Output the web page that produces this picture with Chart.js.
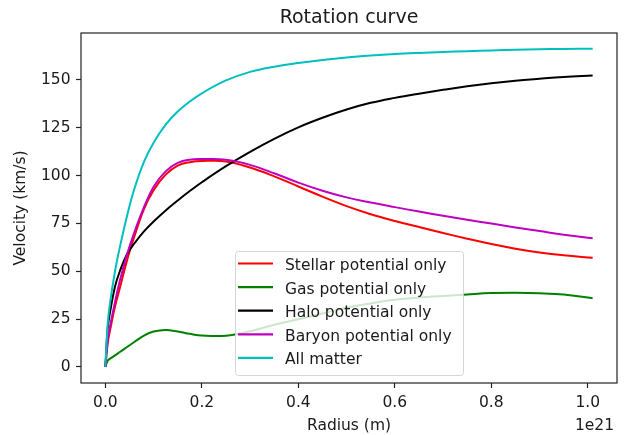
<!DOCTYPE html>
<html>
<head>
<meta charset="utf-8">
<script src="https://cdn.jsdelivr.net/npm/chart.js@4"></script>
<style>
  body { margin: 0; background: #fff; }
  canvas { display: block; }
</style>
</head>
<body>
<canvas id="chart" width="627" height="435"></canvas>
<script>
// radius in units of 1e21 m
const radius = [0, 0.005, 0.01, 0.02, 0.03, 0.045, 0.06, 0.08, 0.1, 0.125, 0.15, 0.175, 0.2, 0.25, 0.3, 0.35, 0.4, 0.45, 0.5, 0.55, 0.6, 0.65, 0.7, 0.75, 0.8, 0.85, 0.9, 0.95, 1.01];

// velocities in km/s
const stellar = [0, 12.7, 19.5, 31.5, 41.2, 55.8, 68, 82.5, 92.4, 100.5, 105.2, 107, 107.6, 107.4, 104.2, 99.6, 94.3, 89, 84, 79.8, 76.3, 73.1, 70, 67, 64.2, 61.8, 59.8, 58.3, 57];
const gas = [0, 3.4, 4.3, 6, 7.8, 10.4, 13, 16.4, 18.5, 19.3, 18.5, 17.3, 16.4, 16.3, 18.6, 22, 24.9, 27.9, 30.9, 33.2, 35.1, 36.3, 37.1, 37.9, 38.6, 38.8, 38.5, 37.8, 35.9];
const halo = [0, 20.5, 29, 42, 50, 59, 64.5, 70.8, 76, 81.8, 87, 91.9, 96.5, 104.9, 112.4, 119.2, 125.2, 130.2, 134.5, 138, 140.6, 142.8, 144.8, 146.7, 148.3, 149.6, 150.6, 151.5, 152.3];
const baryon = [0, 14.5, 21.7, 34, 45, 58.8, 70.3, 83.5, 94.2, 102.2, 106.6, 108.3, 108.6, 108.3, 105.6, 101.2, 96.3, 92.1, 88.6, 85.9, 83.5, 81.2, 79, 76.9, 74.9, 72.9, 71, 69.1, 67.2];
const allMatter = [0, 23, 34, 50, 62.5, 79, 93, 107.2, 117.2, 126.6, 133.5, 138.7, 143, 149.7, 154.2, 156.9, 158.8, 160.4, 161.7, 162.7, 163.5, 164.1, 164.6, 165, 165.4, 165.7, 166, 166.2, 166.3];

const seriesLabels = ['Stellar potential only', 'Gas potential only', 'Halo potential only', 'Baryon potential only', 'All matter'];
const seriesColors = ['#ff0000', '#008000', '#000000', '#bf00bf', '#00bfbf'];
const xTicks = [0, 0.2, 0.4, 0.6, 0.8, 1.0];
const yTicks = [0, 25, 50, 75, 100, 125, 150];

const FONT = 'DejaVu Sans';
const TEXT = '#1a1a1a';

const toPoints = (values) => radius.map((r, i) => ({ x: r, y: values[i] }));

const frameAndLegend = {
  id: 'frameAndLegend',
  afterDatasetsDraw(chart) {
    const { ctx, chartArea: a } = chart;
    ctx.save();
    // axes box
    ctx.strokeStyle = '#222';
    ctx.lineWidth = 1.2;
    ctx.strokeRect(a.left, a.top, a.right - a.left, a.bottom - a.top);

    // legend
    const bx = 235, by = 251, bw = 228, bh = 124, rad = 3;
    ctx.beginPath();
    ctx.roundRect(bx + 0.5, by + 0.5, bw, bh, rad);
    ctx.fillStyle = 'rgba(255,255,255,0.8)';
    ctx.fill();
    ctx.strokeStyle = 'rgba(204,204,204,0.8)';
    ctx.lineWidth = 1;
    ctx.stroke();

    ctx.font = `15.5px "${FONT}"`;
    ctx.textAlign = 'left';
    ctx.textBaseline = 'alphabetic';
    chart.data.datasets.forEach((ds, i) => {
      const y = 263.5 + i * 23.6;
      ctx.beginPath();
      ctx.moveTo(238, y);
      ctx.lineTo(273, y);
      ctx.strokeStyle = ds.borderColor;
      ctx.lineWidth = 2.2;
      ctx.stroke();
      ctx.fillStyle = TEXT;
      ctx.fillText(ds.label, 285, y + 6.5);
    });

    // offset text of the x axis
    ctx.textAlign = 'right';
    ctx.fillText('1e21', 614, 430);
    ctx.restore();
  },
};

new Chart(document.getElementById('chart'), {
  type: 'line',
  data: {
    datasets: seriesLabels.map((label, i) => ({
      label,
      data: toPoints([stellar, gas, halo, baryon, allMatter][i]),
      borderColor: seriesColors[i],
      backgroundColor: seriesColors[i],
      borderWidth: 2,
      pointRadius: 0,
      tension: 0.4,
      order: seriesLabels.length - i,
    })),
  },
  options: {
    responsive: false,
    animation: false,
    layout: { padding: { left: 0, right: 10, top: 0, bottom: 0 } },
    plugins: {
      legend: { display: false },
      tooltip: { enabled: false },
      title: {
        display: true,
        fullSize: false,
        text: 'Rotation curve',
        color: TEXT,
        font: { family: FONT, size: 19, weight: 'normal', lineHeight: 1.2 },
        padding: { top: 7, bottom: 3.2 },
      },
    },
    scales: {
      x: {
        type: 'linear',
        min: -0.0505,
        max: 1.0605,
        afterFit: (s) => { s.height = 52; },
        afterBuildTicks: (s) => { s.ticks = xTicks.map((v) => ({ value: v })); },
        grid: { drawOnChartArea: false, tickLength: 5, tickColor: '#222', tickWidth: 1.2 },
        border: { display: false },
        ticks: {
          color: TEXT,
          font: { family: FONT, size: 15.5 },
          padding: 5.5,
          maxRotation: 0,
          callback: (v) => v.toFixed(1),
        },
        title: {
          display: true,
          text: 'Radius (m)',
          color: TEXT,
          font: { family: FONT, size: 15.5, lineHeight: 1.2 },
          padding: { top: 0, bottom: 0 },
        },
      },
      y: {
        min: -8.4,
        max: 174.5,
        afterFit: (s) => { s.width = 81; },
        afterBuildTicks: (s) => { s.ticks = yTicks.map((v) => ({ value: v })); },
        grid: { drawOnChartArea: false, tickLength: 5, tickColor: '#222', tickWidth: 1.2 },
        border: { display: false },
        ticks: {
          color: TEXT,
          font: { family: FONT, size: 15.5 },
          padding: 5.5,
        },
        title: {
          display: true,
          text: 'Velocity (km/s)',
          color: TEXT,
          font: { family: FONT, size: 15.5, lineHeight: 1.2 },
          padding: { top: 12, bottom: 0 },
        },
      },
    },
  },
  plugins: [frameAndLegend],
});
</script>
</body>
</html>
